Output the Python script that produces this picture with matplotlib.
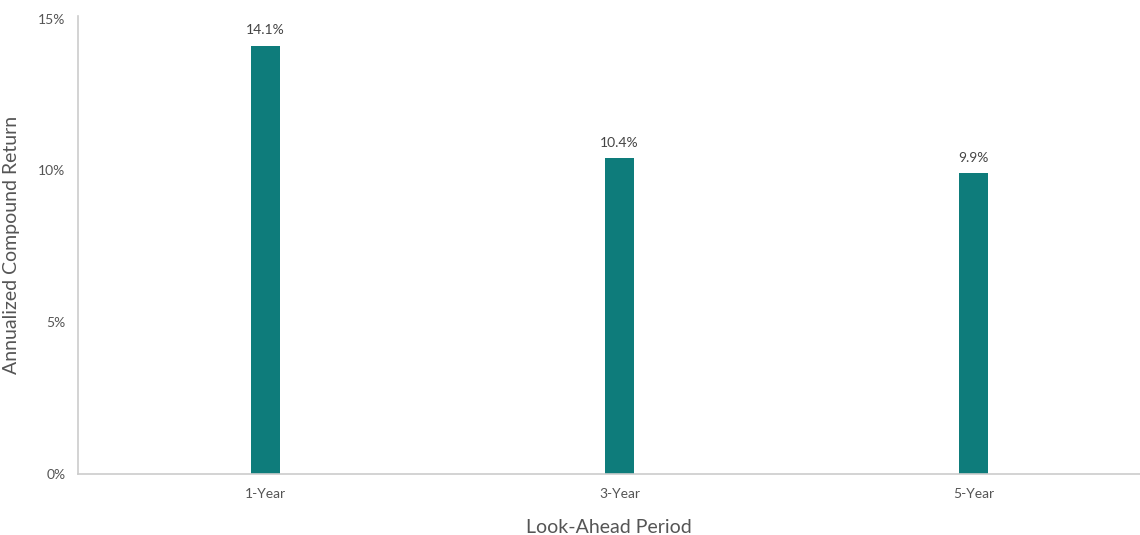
import matplotlib
matplotlib.use("Agg")
import matplotlib.pyplot as plt
from matplotlib.ticker import FuncFormatter

categories = ["1-Year", "3-Year", "5-Year"]
values = [14.1, 10.4, 9.9]
labels = ["14.1%", "10.4%", "9.9%"]
yticks = [0, 5, 10, 15]

plt.rcParams['font.family'] = ['Lato', 'DejaVu Sans']

fig = plt.figure(figsize=(11.4, 5.35), dpi=100)
ax = fig.add_axes([0.0684, 0.114, 0.9316, 0.857])
x = list(range(len(categories)))
bars = ax.bar(x, values, width=0.08, color="#0E7C7B")
for xi, v, lab in zip(x, values, labels):
    ax.annotate(lab, (xi, v), xytext=(0, 7), textcoords="offset points",
                ha="center", va="bottom", fontsize=10, color="#444444")
ax.set_xlim(-0.53, 2.47)
ax.set_ylim(0, 15.1)
ax.set_yticks(yticks)
ax.yaxis.set_major_formatter(FuncFormatter(lambda v, p: f"{v:.0f}%"))
ax.set_xticks(x)
ax.set_xticklabels(categories)
ax.tick_params(length=0, labelsize=10, colors="#555555")
ax.tick_params(axis="y", pad=9)
ax.tick_params(axis="x", pad=10)
for s in ["top", "right"]:
    ax.spines[s].set_visible(False)
for s in ["left", "bottom"]:
    ax.spines[s].set_color("#cccccc")
    ax.spines[s].set_linewidth(1.2)
ax.set_xlabel("Look-Ahead Period", fontsize=14, color="#555555", labelpad=14)
ax.set_ylabel("Annualized Compound Return", fontsize=14, color="#555555")
ax.yaxis.set_label_coords(-0.055, 0.5)
fig.savefig("out.png", dpi=100)
